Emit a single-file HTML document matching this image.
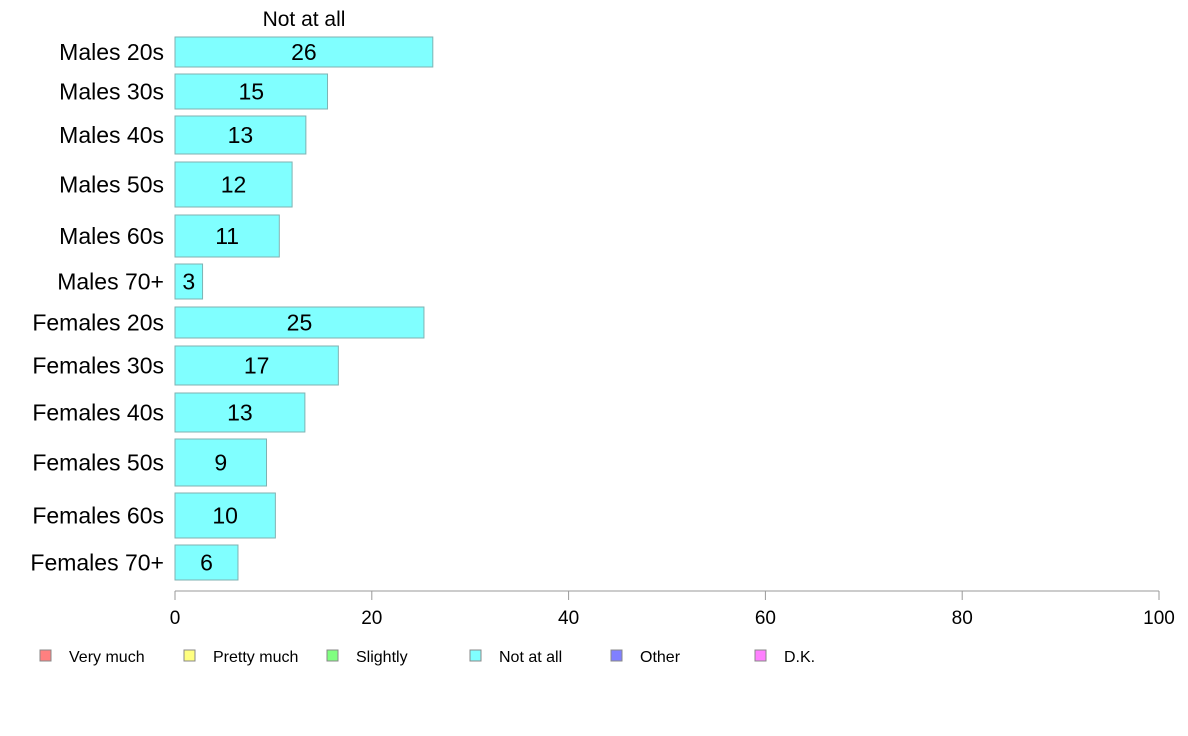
<!DOCTYPE html>
<html><head><meta charset="utf-8"><style>
body{margin:0;background:#fff;}
svg{display:block;font-family:"Liberation Sans",sans-serif;}
</style></head><body>
<svg id="chart" width="1188" height="736" viewBox="0 0 1188 736"></svg>
<script>
const categories=["Males 20s","Males 30s","Males 40s","Males 50s","Males 60s","Males 70+","Females 20s","Females 30s","Females 40s","Females 50s","Females 60s","Females 70+"];
const values=[26.2,15.5,13.3,11.9,10.6,2.8,25.3,16.6,13.2,9.3,10.2,6.4];
const labels=["26","15","13","12","11","3","25","17","13","9","10","6"];
const rowTops=[37,74,116,162,215,264,307,346,393,439,493,545];
const rowBottoms=[67,109,154,207,257,299,338,385,432,486,538,580];
const ticks=[0,20,40,60,80,100];
const legendItems=["Very much","Pretty much","Slightly","Not at all","Other","D.K."];
const legendColors=["#ff8080","#ffff80","#80ff80","#80ffff","#8080ff","#ff80ff"];
const legendBoxX=[40,184,327,470,611,755];

const svg=document.getElementById('chart');
const NS="http://www.w3.org/2000/svg";
const x=v=>175+v*9.84;
function mk(tag,attrs,text){const e=document.createElementNS(NS,tag);for(const k in attrs)e.setAttribute(k,attrs[k]);if(text!==undefined)e.textContent=text;svg.appendChild(e);return e;}

let t=mk('text',{x:304,y:26,'font-size':21,'text-anchor':'middle'},'Not at all');



categories.forEach((c,i)=>{
  const y0=rowTops[i],y1=rowBottoms[i],cy=(y0+y1)/2;
  const r=mk('rect',{x:x(0),y:y0,width:x(values[i])-x(0),height:y1-y0,fill:'#80ffff',stroke:'#7fb2b2','stroke-width':1});
  
  
  const l=mk('text',{x:164,y:cy+8,'font-size':23,'text-anchor':'end'},c);
  
  
  const v=mk('text',{x:(x(0)+x(values[i]))/2,y:cy+8,'font-size':23,'text-anchor':'middle'},labels[i]);
  
  
});

const ax=mk('line',{x1:x(0),x2:x(100),y1:591,y2:591,stroke:'#999','stroke-width':1});


ticks.forEach(tv=>{
  const tk=mk('line',{x1:x(tv),x2:x(tv),y1:591,y2:600,stroke:'#999','stroke-width':1});
  
  
  const tl=mk('text',{x:x(tv),y:624,'font-size':19,'text-anchor':'middle'},String(tv));
  
  
});

legendItems.forEach((n,i)=>{
  const b=mk('rect',{x:legendBoxX[i],y:650,width:11,height:11,fill:legendColors[i],stroke:'#888','stroke-width':1});
  
  
  const lt=mk('text',{x:legendBoxX[i]+29,y:662,'font-size':16},n);
  
  
});
</script>
</body></html>
